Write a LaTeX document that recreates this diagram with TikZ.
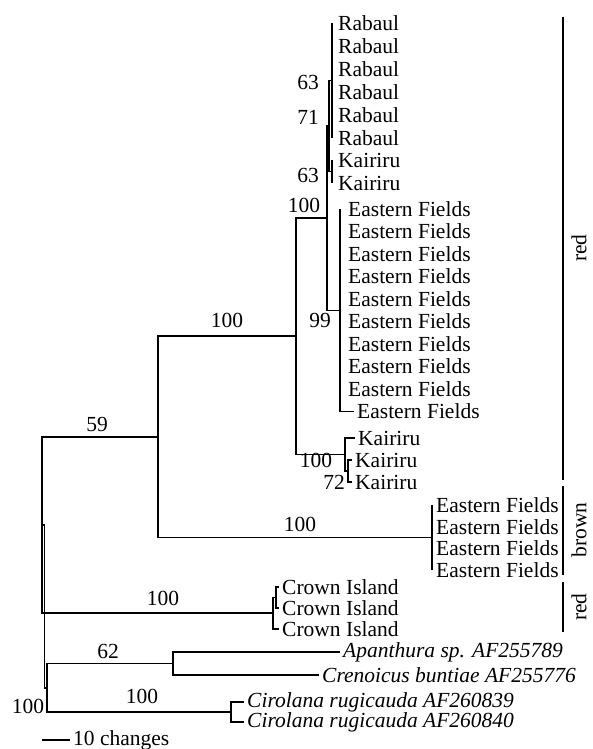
\documentclass[tikz,border=0pt]{standalone}
\usepackage{fontspec}
\setmainfont{Liberation Serif}
\tikzset{
  br/.style={line width=1.5pt},
  leaf/.style={anchor=west, inner xsep=3pt, inner ysep=0pt},
  sup/.style={inner sep=0pt},
  grp/.style={rotate=90, inner sep=0pt}
}

\begin{document}
\begin{tikzpicture}[x=1pt,y=-1pt,font=\fontsize{21.5pt}{22pt}\selectfont]
\useasboundingbox (0,0) rectangle (592,749);

\node[leaf] (r1) at (335,23) {Rabaul};
\node[leaf] (r2) at (335,46) {Rabaul};
\node[leaf] (r3) at (335,69) {Rabaul};
\node[leaf] (r4) at (335,92) {Rabaul};
\node[leaf] (r5) at (335,115) {Rabaul};
\node[leaf] (r6) at (335,138) {Rabaul};
\node[leaf] (k1) at (335,160) {Kairiru};
\node[leaf] (k2) at (335,183) {Kairiru};
\node[leaf] (e1) at (345,209) {Eastern Fields};
\node[leaf] (e2) at (345,231.5) {Eastern Fields};
\node[leaf] (e3) at (345,254) {Eastern Fields};
\node[leaf] (e4) at (345,276.5) {Eastern Fields};
\node[leaf] (e5) at (345,299) {Eastern Fields};
\node[leaf] (e6) at (345,321.5) {Eastern Fields};
\node[leaf] (e7) at (345,344) {Eastern Fields};
\node[leaf] (e8) at (345,366.5) {Eastern Fields};
\node[leaf] (e9) at (345,389) {Eastern Fields};
\node[leaf] (e10) at (354,411.5) {Eastern Fields};
\node[leaf] (q1) at (355,438) {Kairiru};
\node[leaf] (q2) at (352,460) {Kairiru};
\node[leaf] (q3) at (352,482) {Kairiru};
\node[leaf] (b1) at (433,505) {Eastern Fields};
\node[leaf] (b2) at (433,527) {Eastern Fields};
\node[leaf] (b3) at (433,548.5) {Eastern Fields};
\node[leaf] (b4) at (433,570) {Eastern Fields};
\node[leaf] (c1) at (279,587) {Crown Island};
\node[leaf] (c2) at (279,608) {Crown Island};
\node[leaf] (c3) at (279,629) {Crown Island};
\node[leaf] (ap) at (340,652) {\itshape Apanthura sp. AF255789};
\node[leaf] (cr) at (319,675) {\itshape Crenoicus buntiae AF255776};
\node[leaf] (ci1) at (244,702) {\itshape Cirolana rugicauda AF260839};
\node[leaf] (ci2) at (244,722) {\itshape Cirolana rugicauda AF260840};

\coordinate (P1) at (332,80.5);
\coordinate (P3) at (332,171.5);
\coordinate (P2) at (329,126);
\coordinate (F) at (340,310.25);
\coordinate (D) at (327,218);
\coordinate (K2) at (348,471);
\coordinate (K) at (345,454.5);
\coordinate (C) at (296,336);
\coordinate (Br) at (432,537.5);
\coordinate (B) at (158,437);
\coordinate (Cs) at (276,597.5);
\coordinate (Cn) at (273,613);
\coordinate (A) at (42,525);
\coordinate (Ac) at (173,663.5);
\coordinate (Cc) at (231,712);
\coordinate (O) at (47,688);
\coordinate (R) at (44.5,606.5);

\draw[br] (P1 |- r1) -- (P1 |- r6);
\draw[br] (P3 |- k1) -- (P3 |- k2);
\draw[br] (P2) |- (P1);
\draw[br] (P2) |- (P3);
\draw[br] (D) |- (P2);
\draw[br] (D) |- (F);
\draw[br] (F |- e1) -- (F |- e10) -- (e10.west);
\draw[br] (K) |- (q1.west);
\draw[br] (K) |- (K2);
\draw[br] (K2) |- (q2.west);
\draw[br] (K2) |- (q3.west);
\draw[br] (C) |- (D);
\draw[br] (C) |- (K);
\draw[br] (Br |- b1) -- (Br |- b4);
\draw[br] (B) |- (C);
\draw[br] (B) |- (Br);
\draw[br] (Cs) |- (c1.west);
\draw[br] (Cs) |- (c2.west);
\draw[br] (Cn) |- (Cs);
\draw[br] (Cn) |- (c3.west);
\draw[br] (A) |- (B);
\draw[br] (A) |- (Cn);
\draw[br] (Ac) |- (ap.west);
\draw[br] (Ac) |- (cr.west);
\draw[br] (Cc) |- (ci1.west);
\draw[br] (Cc) |- (ci2.west);
\draw[br] (O) |- (Ac);
\draw[br] (O) |- (Cc);
\draw[br] (R) |- (A);
\draw[br] (R) |- (O);

\node[sup] (s63a) at (308,82) {63};
\node[sup] (s71) at (308,117) {71};
\node[sup] (s63b) at (308,175) {63};
\node[sup] (s100d) at (304,205) {100};
\node[sup] (s99) at (320,320) {99};
\node[sup] (s100c) at (227,320) {100};
\node[sup] (s100k) at (316,460) {100};
\node[sup] (s72) at (334,482) {72};
\node[sup] (s59) at (97,424) {59};
\node[sup] (s100b) at (300,524) {100};
\node[sup] (s100cr) at (163,598) {100};
\node[sup] (s62) at (108,651) {62};
\node[sup] (s100ci) at (142,696) {100};
\node[sup] (s100r) at (28,706) {100};

\coordinate (sb0) at (42,740);
\node[leaf] (sbl) at (70,740) {10 changes};
\draw[br] (sb0) -- (sbl.west);

\coordinate (g1t) at (563,17);
\coordinate (g1b) at (563,480);
\coordinate (g2t) at (563,486);
\coordinate (g2b) at (563,575);
\coordinate (g3t) at (563,582);
\coordinate (g3b) at (563,632);
\draw[br] (g1t) -- (g1b);
\draw[br] (g2t) -- (g2b);
\draw[br] (g3t) -- (g3b);
\node[grp] (g1) at (579,248) {red};
\node[grp] (g2) at (579,530) {brown};
\node[grp] (g3) at (579,607) {red};
\end{tikzpicture}
\end{document}
